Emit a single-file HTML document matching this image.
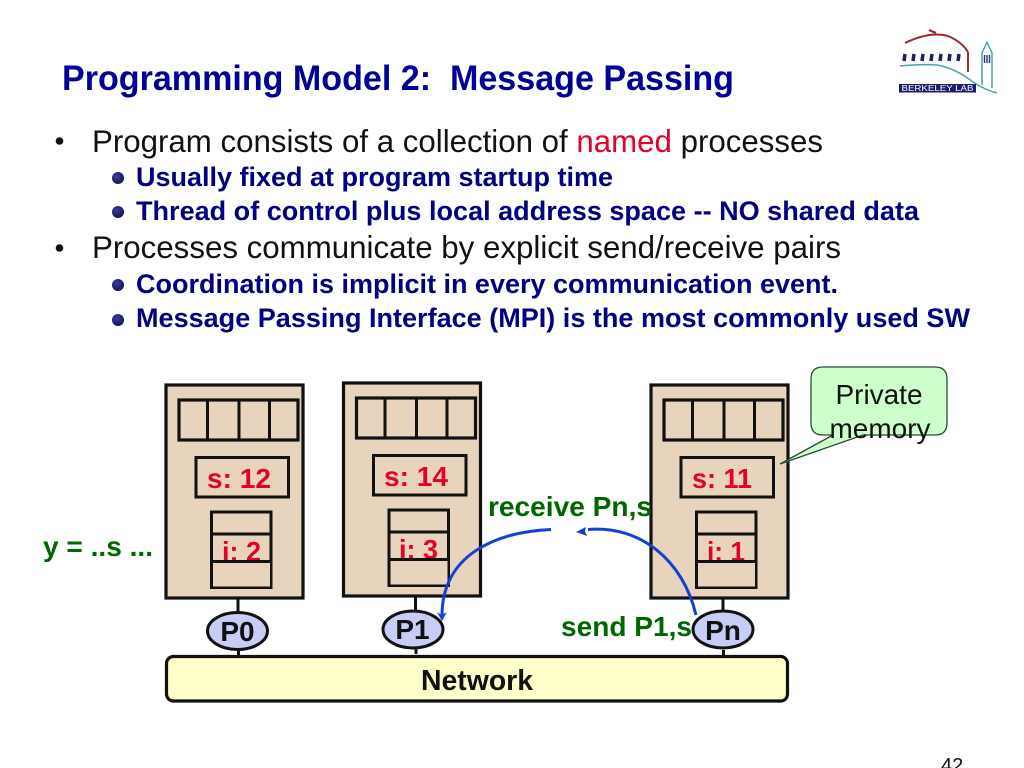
<!DOCTYPE html>
<html lang="en">
<head>
<meta charset="utf-8">
<title>Programming Model 2: Message Passing</title>
<style>
html,body{margin:0;padding:0;background:#fff}
svg{display:block;font-family:"Liberation Sans",Arial,sans-serif}
</style>
</head>
<body>
<svg width="1024" height="768" viewBox="0 0 1024 768" xmlns="http://www.w3.org/2000/svg">
<defs>
<g id="proc">
  <rect x="166" y="385" width="137" height="213" fill="#e8d3bd" stroke="#111" stroke-width="3.2"/>
  <rect x="179" y="400" width="119" height="40" fill="none" stroke="#111" stroke-width="3.2"/>
  <path d="M207.500 400V440M239 400V440M269.500 400V440" fill="none" stroke="#111" stroke-width="3"/>
  <rect x="196" y="457.500" width="92.500" height="39.500" fill="none" stroke="#111" stroke-width="3"/>
  <rect x="211.500" y="512" width="59.500" height="75.500" fill="none" stroke="#111" stroke-width="3"/>
  <path d="M238 598V612M238.500 650V656" stroke="#111" stroke-width="3" fill="none"/>
</g>
<radialGradient id="dot" cx="40%" cy="35%" r="70%">
  <stop offset="0" stop-color="#3a3f9a"/><stop offset="1" stop-color="#10124f"/>
</radialGradient>
</defs>

<text x="62" y="90" font-size="34.800" font-weight="700" fill="#000099" textLength="672" lengthAdjust="spacingAndGlyphs" xml:space="preserve">Programming Model 2:  Message Passing</text>

<!-- Logo -->
<g fill="none">
  <path d="M905 43Q930 31 948 36Q962 42 968 52" stroke="#9c2a2a" stroke-width="2"/>
  <path d="M929 30L936 33" stroke="#9c2a2a" stroke-width="2.200"/>
  <path d="M968 52V72" stroke="#a33030" stroke-width="2"/>
  <path d="M900 66Q920 64 937 65Q955 68 973 82Q985 90 997 93" stroke="#4aa4a6" stroke-width="1.500"/>
  <path d="M982 85V53L987 42L992 53V88" stroke="#4aa4a6" stroke-width="1.500"/>
  <path d="M984.500 55V63M987 55V63M989.500 55V63" stroke="#2b2f7a" stroke-width="1.400"/>
  <path d="M905 54l-1 7M914 54l-1 7M923 54l-1 7M932 54l-1 7M941 54l-1 7M950 54l-1 7M959 54l-1 7" stroke="#1c1f66" stroke-width="3.500"/>
</g>
<rect x="899" y="84" width="77" height="8.500" fill="#1b1c6e"/>
<text x="937.500" y="91" font-size="8" fill="#fff" text-anchor="middle" textLength="72" lengthAdjust="spacingAndGlyphs">BERKELEY LAB</text>

<!-- Bullets -->
<circle cx="59.500" cy="141" r="3.800" fill="#111"/>
<circle cx="59.500" cy="248" r="3.800" fill="#111"/>
<text x="92" y="152" font-size="31.200" fill="#111" textLength="731" lengthAdjust="spacingAndGlyphs" xml:space="preserve">Program consists of a collection of <tspan fill="#e3002b">named</tspan> processes</text>
<text x="92" y="258" font-size="31.200" fill="#111" textLength="749" lengthAdjust="spacingAndGlyphs">Processes communicate by explicit send/receive pairs</text>

<circle cx="118" cy="178" r="6" fill="url(#dot)"/>
<circle cx="118" cy="212" r="6" fill="url(#dot)"/>
<circle cx="118" cy="285" r="6" fill="url(#dot)"/>
<circle cx="118" cy="320" r="6" fill="url(#dot)"/>
<g font-size="27" font-weight="700" fill="#000080">
  <text x="136" y="186" textLength="477" lengthAdjust="spacingAndGlyphs">Usually fixed at program startup time</text>
  <text x="136" y="220" textLength="783" lengthAdjust="spacingAndGlyphs">Thread of control plus local address space -- NO shared data</text>
  <text x="136" y="293" textLength="702" lengthAdjust="spacingAndGlyphs">Coordination is implicit in every communication event.</text>
  <text x="136" y="327" textLength="834" lengthAdjust="spacingAndGlyphs">Message Passing Interface (MPI) is the most commonly used SW</text>
</g>

<!-- Processor columns -->
<use href="#proc"/>
<use href="#proc" transform="translate(177.500 -2)"/>
<use href="#proc" transform="translate(485 0)"/>

<!-- Variable labels -->
<g font-size="28" font-weight="700" fill="#e3002b">
  <text x="207" y="488" textLength="64" lengthAdjust="spacingAndGlyphs">s: 12</text>
  <text x="384" y="486" textLength="64" lengthAdjust="spacingAndGlyphs">s: 14</text>
  <text x="692" y="488" textLength="60" lengthAdjust="spacingAndGlyphs">s: 11</text>
  <text x="222" y="561" textLength="39" lengthAdjust="spacingAndGlyphs">i: 2</text>
  <text x="399" y="559" textLength="39" lengthAdjust="spacingAndGlyphs">i: 3</text>
  <text x="707" y="561" textLength="38" lengthAdjust="spacingAndGlyphs">i: 1</text>
</g>
<!-- Stack dividers over labels, which clip the digits -->
<g stroke="#111" stroke-width="3">
  <path d="M211.500 534H271" fill="none"/>
  <path d="M389 532H448.500" fill="none"/>
  <path d="M696.500 534H756" fill="none"/>
</g>
<rect x="213" y="562" width="57" height="24.500" fill="#e8d3bd"/>
<rect x="390.500" y="560" width="57" height="24.500" fill="#e8d3bd"/>
<rect x="698" y="562" width="57" height="24.500" fill="#e8d3bd"/>
<g stroke="#111" stroke-width="3">
  <path d="M211.500 561.500H271" fill="none"/>
  <path d="M389 559.500H448.500" fill="none"/>
  <path d="M696.500 561.500H756" fill="none"/>
</g>

<!-- Network -->
<rect x="166.500" y="656.500" width="621" height="44.500" rx="7" fill="#ffffcc" stroke="#111" stroke-width="3.200"/>
<text x="477" y="690" font-size="28.400" font-weight="700" fill="#111" text-anchor="middle" textLength="112" lengthAdjust="spacingAndGlyphs">Network</text>

<!-- P ellipses -->
<g fill="#c8cdf5" stroke="#111" stroke-width="3">
  <ellipse cx="237.500" cy="631" rx="30" ry="18.500"/>
  <ellipse cx="413" cy="629.500" rx="30" ry="18.500"/>
  <ellipse cx="723" cy="629.500" rx="30" ry="18.500"/>
</g>
<g font-size="28" font-weight="700" fill="#111" text-anchor="middle">
  <text x="237.500" y="641">P0</text>
  <text x="412.500" y="639">P1</text>
  <text x="723" y="640">Pn</text>
</g>

<!-- Green labels -->
<g font-size="28" font-weight="700" fill="#006600">
  <text x="43" y="556" textLength="110" lengthAdjust="spacingAndGlyphs">y = ..s ...</text>
  <text x="488" y="516" textLength="164" lengthAdjust="spacingAndGlyphs">receive Pn,s</text>
  <text x="561" y="636" textLength="131" lengthAdjust="spacingAndGlyphs">send P1,s</text>
</g>

<!-- Blue arrows -->
<g fill="none" stroke="#1540d0" stroke-width="3">
  <path d="M551 529.500C495 532 442 555 442 616"/>
  <path d="M696 615C683 560 640 525 588 529.500"/>
</g>
<path d="M437 612L442 621L447 612L442 615Z" fill="#1540d0"/>
<path d="M576 532L586 527L585 531.500L587 536Z" fill="#1540d0"/>

<!-- Callout -->
<path d="M823 367H935Q947 367 947 379V423Q947 435 935 435H863L780 464L833 435H823Q811 435 811 423V379Q811 367 823 367Z" fill="#ccffcc" stroke="#2c4a32" stroke-width="1.300"/>
<text x="879" y="404" font-size="28" fill="#111" text-anchor="middle" textLength="87" lengthAdjust="spacingAndGlyphs">Private</text>
<text x="880" y="438" font-size="28" fill="#111" text-anchor="middle" textLength="101" lengthAdjust="spacingAndGlyphs">memory</text>

<text x="941" y="772" font-size="20" fill="#111">42</text>
</svg>
</body>
</html>
